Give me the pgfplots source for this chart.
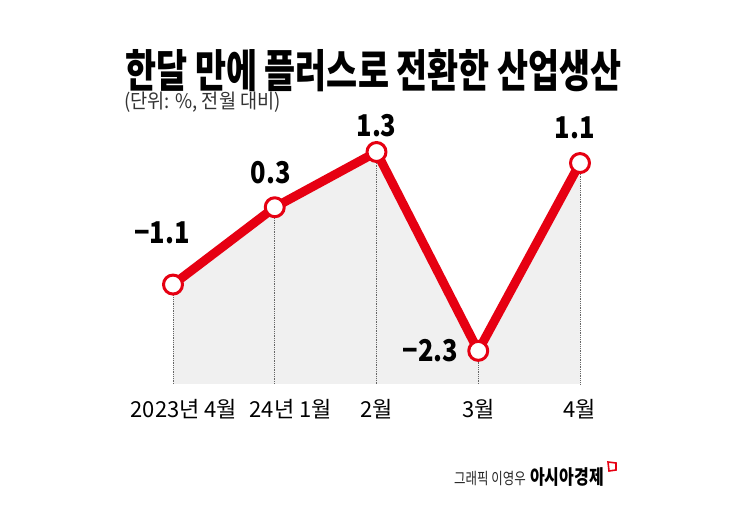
\documentclass[border=0pt]{standalone}
\usepackage{pgfplots}
\pgfplotsset{compat=1.18}
\usepackage{fontspec}
\setmainfont{Noto Sans CJK KR}
\definecolor{lred}{HTML}{E60012}
\definecolor{fillg}{HTML}{F0F0F0}
\newcommand{\cond}[2][0.8]{\scalebox{#1}[1]{#2}}

\begin{document}
\begin{tikzpicture}
\path[use as bounding box, fill=white] (0,0) rectangle (745bp,509bp);

% title
\node[anchor=north west, inner sep=0] at (125bp,460bp)
  {\cond[0.75]{\fontsize{45bp}{48bp}\selectfont\bfseries 한달 만에 플러스로 전환한 산업생산}};
\node[anchor=north west, inner sep=0, text=black!80] at (124bp,417bp)
  {\cond[0.93]{\fontsize{20bp}{22bp}\selectfont (단위: \%, 전월 대비)}};

\begin{axis}[
    at={(173bp,125bp)}, anchor=south west,
    scale only axis, width=407bp, height=232bp,
    xmin=0, xmax=4, ymin=-2.9, ymax=1.3,
    clip=false,
    axis line style={draw=none},
    major tick length=0pt,
    ytick=\empty,
    xtick=data,
    xticklabels={\hspace*{22bp}2023년 4월, \hspace*{32bp}24년 1월, 2월, 3월, 4월},
    xticklabel style={inner sep=0pt, yshift=-15bp,
      font=\fontsize{22bp}{24bp}\selectfont},
  ]
  % shaded area under the line
  \addplot[fill=fillg, draw=none, forget plot] coordinates {
    (0,-2.9) (0,-1.1) (1,0.3) (2,1.3) (3,-2.3) (4,1.1) (4,-2.9)} -- cycle;
  % dotted drop lines
  \addplot[black!60, densely dotted, line width=0.8pt, forget plot] coordinates {(0,-1.1) (0,-2.9)};
  \addplot[black!60, densely dotted, line width=0.8pt, forget plot] coordinates {(1,0.3) (1,-2.9)};
  \addplot[black!60, densely dotted, line width=0.8pt, forget plot] coordinates {(2,1.3) (2,-2.9)};
  \addplot[black!60, densely dotted, line width=0.8pt, forget plot] coordinates {(3,-2.3) (3,-2.9)};
  \addplot[black!60, densely dotted, line width=0.8pt, forget plot] coordinates {(4,1.1) (4,-2.9)};
  % main line
  \addplot[lred, line width=9bp, line join=round,
    mark=*, mark size=9.5bp,
    mark options={fill=white, draw=lred, line width=3bp}]
    coordinates {(0,-1.1) (1,0.3) (2,1.3) (3,-2.3) (4,1.1)};

  \begin{scope}[every node/.style={inner sep=0pt, font=\fontsize{30bp}{32bp}\selectfont\bfseries}]
  \node[anchor=south, xshift=-11bp, yshift=40bp] at (axis cs:0,-1.1) {\cond[0.85]{−1.1}};
  \node[anchor=south, xshift=-4bp, yshift=23bp] at (axis cs:1,0.3) {\cond[0.85]{0.3}};
  \node[anchor=south, yshift=15bp] at (axis cs:2,1.3) {\cond[0.85]{1.3}};
  \node[anchor=east, xshift=-20bp] at (axis cs:3,-2.3) {\cond[0.85]{−2.3}};
  \node[anchor=south, xshift=-5bp, yshift=24bp] at (axis cs:4,1.1) {\cond[0.85]{1.1}};
  \end{scope}
\end{axis}

% credit
\node[anchor=base east, inner sep=0, text=black!85] at (526bp,25bp)
  {\cond[0.78]{\fontsize{16bp}{18bp}\selectfont 그래픽 이영우}};
\node[anchor=base west, inner sep=0] at (530bp,25bp)
  {\cond[0.8]{\fontsize{20bp}{21bp}\selectfont\bfseries 아시아경제}};
\draw[lred, line width=1.6bp] (608bp,47bp) -- (616bp,46bp) -- (616bp,39bp) -- (609bp,38bp) -- cycle;
\end{tikzpicture}
\end{document}
